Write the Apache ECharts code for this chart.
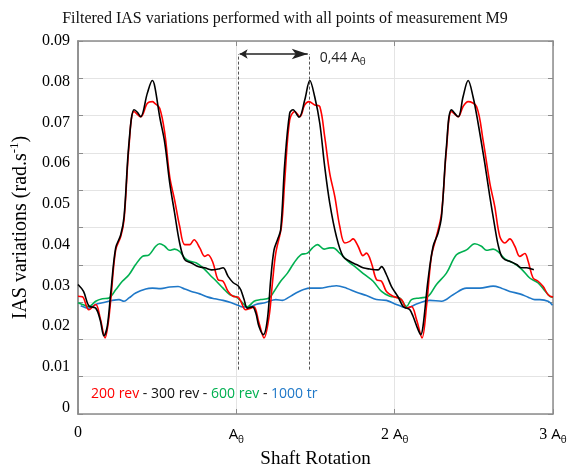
<!DOCTYPE html>
<html><head><meta charset="utf-8">
<script src="https://cdn.jsdelivr.net/npm/echarts@6/dist/echarts.min.js"></script>
<style>html,body{margin:0;padding:0;background:#fff}#c{width:570px;height:464px}</style>
</head><body><div id="c"></div>
<script>
// ---- data ----
const X_TICKS = [0, 1, 2, 3];
const X_TICK_LABELS = ['0', '{a|A}{s|θ}', '2 {a|A}{s|θ}', '3 {a|A}{s|θ}'];
const Y_TICKS = [0, 0.01, 0.02, 0.03, 0.04, 0.05, 0.06, 0.07, 0.08, 0.09];
const Y_TICK_LABELS = ['0', '0.01', '0.02', '0.03', '0.04', '0.05', '0.06', '0.07', '0.08', '0.09'];
const SERIES_NAMES = ['200 rev', '300 rev', '600 rev', '1000 tr'];

const REV200 = [[0,0.0273],[0.028,0.0272],[0.069,0.0240],[0.112,0.0253],[0.140,0.0220],[0.171,0.0171],[0.190,0.0205],[0.207,0.0265],[0.238,0.0387],[0.270,0.0420],[0.291,0.0461],[0.322,0.0641],[0.354,0.0727],[0.396,0.0714],[0.438,0.0747],[0.470,0.0751],[0.485,0.0747],[0.516,0.0735],[0.548,0.0674],[0.579,0.0567],[0.610,0.0510],[0.642,0.0445],[0.674,0.0400],[0.706,0.0400],[0.733,0.0412],[0.769,0.0392],[0.800,0.0371],[0.821,0.0375],[0.853,0.0355],[0.884,0.0314],[0.916,0.0310],[0.948,0.0285],[0.979,0.0273],[1.011,0.0271],
[1.028,0.0261],[1.059,0.0240],[1.091,0.0244],[1.112,0.0247],[1.143,0.0208],[1.175,0.0171],[1.207,0.0224],[1.228,0.0306],[1.249,0.0379],[1.285,0.0445],[1.306,0.0559],[1.337,0.0706],[1.369,0.0727],[1.401,0.0714],[1.432,0.0743],[1.459,0.0751],[1.495,0.0743],[1.527,0.0739],[1.558,0.0665],[1.590,0.0575],[1.622,0.0518],[1.653,0.0445],[1.685,0.0404],[1.716,0.0408],[1.737,0.0414],[1.769,0.0396],[1.800,0.0373],[1.822,0.0379],[1.853,0.0355],[1.885,0.0314],[1.917,0.0310],[1.948,0.0285],[1.990,0.0273],[2.043,0.0265],[2.075,0.0244],
[2.106,0.0248],[2.138,0.0216],[2.173,0.0171],[2.201,0.0248],[2.232,0.0371],[2.264,0.0420],[2.296,0.0477],[2.327,0.0633],[2.359,0.0727],[2.401,0.0714],[2.432,0.0739],[2.464,0.0751],[2.517,0.0739],[2.558,0.0657],[2.601,0.0551],[2.632,0.0494],[2.664,0.0420],[2.696,0.0404],[2.727,0.0414],[2.759,0.0396],[2.790,0.0371],[2.822,0.0378],[2.843,0.0359],[2.874,0.0318],[2.906,0.0310],[2.938,0.0297],[2.969,0.0277],[3.0,0.0271]];

const REV300 = [[0,0.0302],[0.035,0.0285],[0.069,0.0249],[0.112,0.0244],[0.140,0.0215],[0.164,0.0176],[0.185,0.0200],[0.207,0.0282],[0.238,0.0392],[0.270,0.0424],[0.291,0.0469],[0.322,0.0650],[0.354,0.0731],[0.375,0.0725],[0.396,0.0714],[0.438,0.0772],[0.470,0.0803],[0.485,0.0788],[0.516,0.0714],[0.548,0.0650],[0.579,0.0552],[0.610,0.0478],[0.642,0.0404],[0.674,0.0363],[0.716,0.0355],[0.758,0.0346],[0.800,0.0343],[0.843,0.0338],[0.884,0.0340],[0.916,0.0343],[0.948,0.0322],[0.979,0.0307],[1.011,0.0299],
[1.028,0.0289],[1.049,0.0265],[1.070,0.0244],[1.102,0.0247],[1.123,0.0232],[1.143,0.0199],[1.171,0.0179],[1.196,0.0216],[1.217,0.0314],[1.238,0.0387],[1.260,0.0412],[1.280,0.0436],[1.306,0.0600],[1.337,0.0723],[1.358,0.0731],[1.396,0.0713],[1.432,0.0755],[1.464,0.0803],[1.495,0.0763],[1.527,0.0698],[1.558,0.0592],[1.590,0.0502],[1.632,0.0420],[1.674,0.0371],[1.716,0.0359],[1.759,0.0351],[1.800,0.0343],[1.843,0.0340],[1.895,0.0338],[1.917,0.0346],[1.948,0.0326],[1.980,0.0297],[2.021,0.0272],[2.053,0.0248],[2.075,0.0244],
[2.096,0.0240],[2.116,0.0224],[2.148,0.0191],[2.165,0.0179],[2.179,0.0199],[2.211,0.0314],[2.243,0.0396],[2.274,0.0428],[2.296,0.0469],[2.327,0.0641],[2.359,0.0731],[2.401,0.0714],[2.432,0.0763],[2.464,0.0803],[2.495,0.0763],[2.527,0.0698],[2.569,0.0600],[2.601,0.0518],[2.632,0.0445],[2.653,0.0400],[2.674,0.0372],[2.696,0.0363],[2.727,0.0359],[2.770,0.0351],[2.801,0.0343],[2.833,0.0343],[2.864,0.0340],[2.879,0.0338]];

const REV600 = [[0,0.0257],[0.028,0.0253],[0.069,0.0248],[0.112,0.0261],[0.154,0.0267],[0.196,0.0269],[0.238,0.0289],[0.280,0.0310],[0.322,0.0326],[0.364,0.0351],[0.407,0.0371],[0.449,0.0375],[0.491,0.0396],[0.516,0.0402],[0.548,0.0396],[0.579,0.0386],[0.610,0.0389],[0.642,0.0383],[0.674,0.0367],[0.706,0.0359],[0.748,0.0355],[0.790,0.0343],[0.832,0.0326],[0.874,0.0310],[0.916,0.0293],[0.958,0.0277],[1.001,0.0271],
[1.039,0.0257],[1.070,0.0247],[1.112,0.0261],[1.154,0.0265],[1.207,0.0269],[1.238,0.0285],[1.280,0.0310],[1.323,0.0330],[1.364,0.0355],[1.407,0.0375],[1.449,0.0379],[1.481,0.0392],[1.512,0.0400],[1.554,0.0389],[1.590,0.0392],[1.611,0.0392],[1.653,0.0379],[1.706,0.0359],[1.759,0.0343],[1.811,0.0326],[1.864,0.0310],[1.917,0.0285],[1.969,0.0273],[2.032,0.0269],[2.075,0.0248],
[2.106,0.0265],[2.159,0.0269],[2.211,0.0273],[2.264,0.0302],[2.327,0.0330],[2.390,0.0375],[2.454,0.0387],[2.506,0.0402],[2.548,0.0396],[2.580,0.0386],[2.622,0.0389],[2.653,0.0383],[2.696,0.0365],[2.748,0.0355],[2.801,0.0340],[2.853,0.0318],[2.906,0.0306],[2.948,0.0287],[2.980,0.0273],[3.0,0.0271]];

const REV1000 = [[0.017,0.0250],[0.069,0.0244],[0.112,0.0253],[0.154,0.0257],[0.217,0.0263],[0.259,0.0265],[0.291,0.0261],[0.322,0.0269],[0.364,0.0281],[0.428,0.0291],[0.470,0.0293],[0.522,0.0292],[0.579,0.0296],[0.632,0.0297],[0.674,0.0291],[0.716,0.0285],[0.769,0.0279],[0.821,0.0271],[0.864,0.0267],[0.916,0.0263],[0.969,0.0257],[1.011,0.0251],
[1.039,0.0247],[1.080,0.0247],[1.123,0.0253],[1.186,0.0258],[1.249,0.0265],[1.291,0.0263],[1.333,0.0271],[1.358,0.0277],[1.396,0.0285],[1.421,0.0289],[1.464,0.0293],[1.527,0.0293],[1.590,0.0297],[1.632,0.0299],[1.696,0.0293],[1.759,0.0283],[1.822,0.0275],[1.885,0.0265],[1.948,0.0263],[2.011,0.0253],[2.043,0.0248],[2.075,0.0244],
[2.138,0.0254],[2.222,0.0263],[2.296,0.0261],[2.369,0.0277],[2.454,0.0293],[2.538,0.0293],[2.622,0.0298],[2.674,0.0293],[2.727,0.0285],[2.790,0.0279],[2.843,0.0271],[2.885,0.0265],[2.917,0.0265],[2.969,0.0261],[2.997,0.0251]];

// annotation: dashed lines and arrow (0.44 A_theta span)
const SPAN_X = [1.011, 1.459];
const SPAN_Y = [0.0093, 0.0868];
const SPAN_TEXT = '0,44';

// ---- chart ----
const COLORS = ['#ff0000', '#000000', '#00b050', '#1f78c8'];
const SERIF = 'Liberation Serif';
const SANS = 'Open Sans';
const AXIS_COL = '#8c8c8c';
const GRID_COL = '#e4e4e4';

const chart = echarts.init(document.getElementById('c'), null, {renderer: 'canvas'});

const subRich = {
  a: {fontFamily: SANS, fontSize: 15, lineHeight: 20, color: '#000'},
  s: {fontFamily: SANS, fontSize: 10, lineHeight: 10, verticalAlign: 'bottom', color: '#000'}
};

const lineSeries = [REV1000, REV600, REV200, REV300].map((d, i) => {
  const idx = [3, 2, 0, 1][i];
  return {
    name: SERIES_NAMES[idx], type: 'line', data: d, xAxisIndex: 0, yAxisIndex: 0,
    showSymbol: false, smooth: 0.35, silent: true,
    lineStyle: {color: COLORS[idx], width: 1.6}, z: 3 + i
  };
});

const annotation = {
  type: 'line', data: [], xAxisIndex: 0, yAxisIndex: 0, silent: true,
  markLine: {
    silent: true, animation: false,
    data: [
      [{coord: [SPAN_X[0], SPAN_Y[0]], symbol: 'none', lineStyle: {type: [3, 2], color: '#555', width: 1}, label: {show: false}},
       {coord: [SPAN_X[0], SPAN_Y[1]], symbol: 'none'}],
      [{coord: [SPAN_X[1], SPAN_Y[0]], symbol: 'none', lineStyle: {type: [3, 2], color: '#555', width: 1}, label: {show: false}},
       {coord: [SPAN_X[1], SPAN_Y[1]], symbol: 'none'}],
      [{coord: [SPAN_X[0] + 0.01, SPAN_Y[1]], symbol: 'arrow', symbolSize: [7, 8], lineStyle: {type: 'solid', color: '#222', width: 1.6},
        label: {show: true, position: 'end', distance: 10, padding: [8, 0, 0, 2], formatter: SPAN_TEXT + ' {a|A}{s|θ}', fontFamily: SANS, fontSize: 14, color: '#222',
          rich: {a: {fontFamily: SANS, fontSize: 14, lineHeight: 18, color: '#222'}, s: {fontFamily: SANS, fontSize: 10, lineHeight: 10, verticalAlign: 'bottom', color: '#222'}}}},
       {coord: [SPAN_X[1] - 0.008, SPAN_Y[1]], symbol: 'arrow'}]
    ]
  }
};

const option = {
  animation: false,
  backgroundColor: '#fff',
  title: [
    {text: 'Filtered IAS variations performed with all points of measurement M9', left: 280, top: 6, textAlign: 'center',
     textStyle: {fontFamily: SERIF, fontSize: 16, fontWeight: 'normal', color: '#111'}},
    {text: '{r|' + SERIES_NAMES[0] + '}{k| - ' + SERIES_NAMES[1] + ' - }{g|' + SERIES_NAMES[2] + '}{k| - }{b|' + SERIES_NAMES[3] + '}',
     left: 86, top: 382,
     textStyle: {fontFamily: SANS, fontSize: 14, fontWeight: 'normal',
       rich: {
         r: {color: COLORS[0], fontFamily: SANS, fontSize: 14},
         k: {color: '#111', fontFamily: SANS, fontSize: 14},
         g: {color: COLORS[2], fontFamily: SANS, fontSize: 14},
         b: {color: COLORS[3], fontFamily: SANS, fontSize: 14}
       }}}
  ],
  grid: {left: 78, right: 17, top: 41, bottom: 50, show: false, containLabel: false, outerBoundsMode: 'none'},
  xAxis: [
    {type: 'value', position: 'bottom', min: 0, max: 3, interval: 1,
     axisLine: {show: true, onZero: false, lineStyle: {color: AXIS_COL, width: 1.5}},
     axisTick: {show: true, inside: true, length: 5, lineStyle: {color: AXIS_COL, width: 1}},
     splitLine: {show: true, lineStyle: {color: GRID_COL, width: 1}},
     axisLabel: {margin: 11, fontFamily: SERIF, fontSize: 16, color: '#000',
       formatter: v => X_TICK_LABELS[X_TICKS.indexOf(Math.round(v))] || '', rich: subRich},
     name: 'Shaft Rotation', nameLocation: 'middle', nameGap: 24,
     nameTextStyle: {fontFamily: SERIF, fontSize: 19, color: '#000'}},
    {type: 'value', position: 'top', min: 0, max: 3, interval: 1,
     axisLine: {show: true, onZero: false, lineStyle: {color: AXIS_COL, width: 1.5}},
     axisTick: {show: true, inside: true, length: 5, lineStyle: {color: AXIS_COL, width: 1}},
     splitLine: {show: false}, axisLabel: {show: false}}
  ],
  yAxis: [
    {type: 'value', position: 'left', min: -0.0016, max: 0.09,
     axisLine: {show: true, onZero: false, lineStyle: {color: AXIS_COL, width: 1.5}},
     axisTick: {show: false}, splitLine: {show: false},
     axisLabel: {show: true, customValues: Y_TICKS, margin: 8, fontFamily: SERIF, fontSize: 16, color: '#000',
       formatter: v => Y_TICK_LABELS[Y_TICKS.findIndex(t => Math.abs(t - v) < 1e-6)] || ''},
     name: '{n|IAS variations (rad.s}{p|-1}{n|)}', nameLocation: 'middle', nameGap: 37, nameRotate: 90,
     nameTextStyle: {fontFamily: SERIF, fontSize: 20, color: '#000',
       rich: {n: {fontFamily: SERIF, fontSize: 20, lineHeight: 26, color: '#000'},
              p: {fontFamily: SERIF, fontSize: 13, lineHeight: 13, verticalAlign: 'top', color: '#000'}}}},
    {type: 'value', position: 'left', min: 0, max: 10, interval: 1,
     axisLine: {show: true, onZero: false, lineStyle: {color: AXIS_COL, width: 1.5}},
     axisTick: {show: true, inside: true, length: 5, lineStyle: {color: AXIS_COL, width: 1}},
     splitLine: {show: true, lineStyle: {color: GRID_COL, width: 1}}, axisLabel: {show: false}},
    {type: 'value', position: 'right', min: 0, max: 10, interval: 1,
     axisLine: {show: true, onZero: false, lineStyle: {color: AXIS_COL, width: 1.5}},
     axisTick: {show: true, inside: true, length: 5, lineStyle: {color: AXIS_COL, width: 1}},
     splitLine: {show: false}, axisLabel: {show: false}}
  ],
  series: lineSeries.concat([annotation])
};
chart.setOption(option);
</script>
</body></html>
